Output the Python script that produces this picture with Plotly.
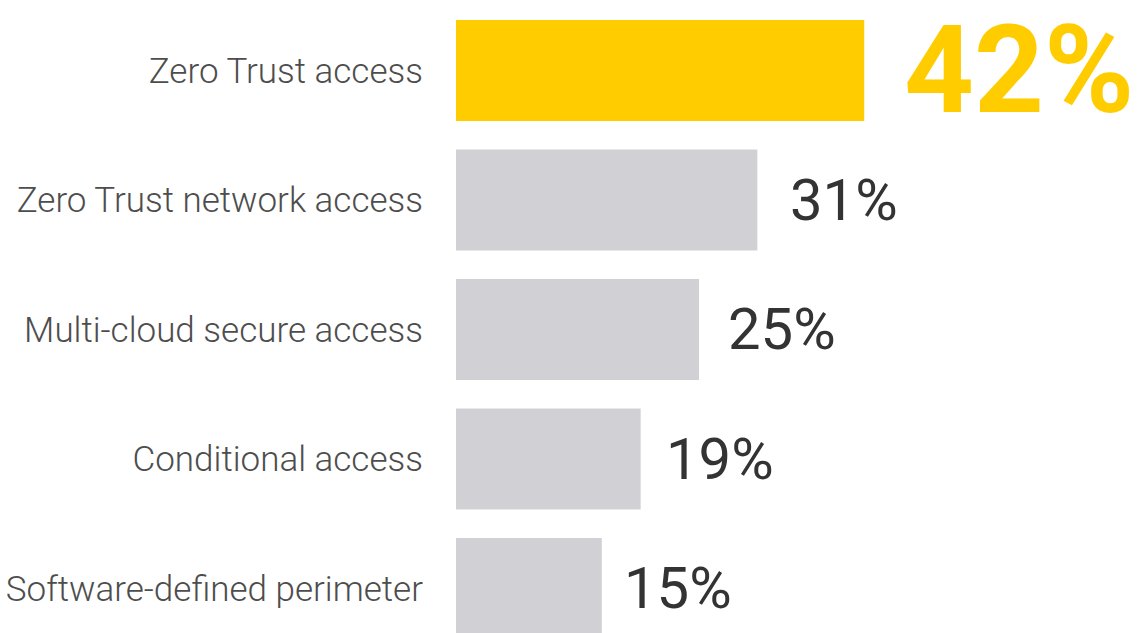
import plotly.graph_objects as go

categories = ["Zero Trust access", "Zero Trust network access", "Multi-cloud secure access",
              "Conditional access", "Software-defined perimeter"]
values = [42, 31, 25, 19, 15]
value_labels = ["42%", "31%", "25%", "19%", "15%"]

HIGHLIGHT = "#FFCC00"
GREY = "#D1D1D5"
colors = [HIGHLIGHT] + [GREY] * (len(values) - 1)

fig = go.Figure()
fig.add_trace(go.Bar(
    x=values, y=categories, orientation="h",
    marker=dict(color=colors, line=dict(width=0)),
    width=0.78, hoverinfo="skip", showlegend=False,
))

NARROW = "Roboto, Liberation Sans, sans-serif"
for i, (v, c, t) in enumerate(zip(values, categories, value_labels)):
    big = i == 0
    fig.add_annotation(
        x=v, y=c, xref="x", yref="y", text=t, showarrow=False,
        xanchor="left", yanchor="middle",
        xshift=11 + 0.63 * v,
        font=dict(family=NARROW, size=122 if big else 58,
                  color=HIGHLIGHT if big else "#333333",
                  weight="bold" if big else "normal"),
    )

fig.update_layout(
    width=1143, height=633,
    margin=dict(l=456, r=0, t=0, b=0),
    paper_bgcolor="white", plot_bgcolor="white",
    xaxis=dict(range=[0, 70.68], visible=False, fixedrange=True),
    yaxis=dict(
        categoryorder="array", categoryarray=categories,
        range=[4.344, -0.544], autorange=False,
        showgrid=False, zeroline=False, showline=False, ticks="",
        ticklabelstandoff=32,
        tickfont=dict(family="Roboto, Liberation Sans, sans-serif", size=35, color="#4D4D4D",
                      weight=300),
    ),
)

fig.write_html("out.html")
